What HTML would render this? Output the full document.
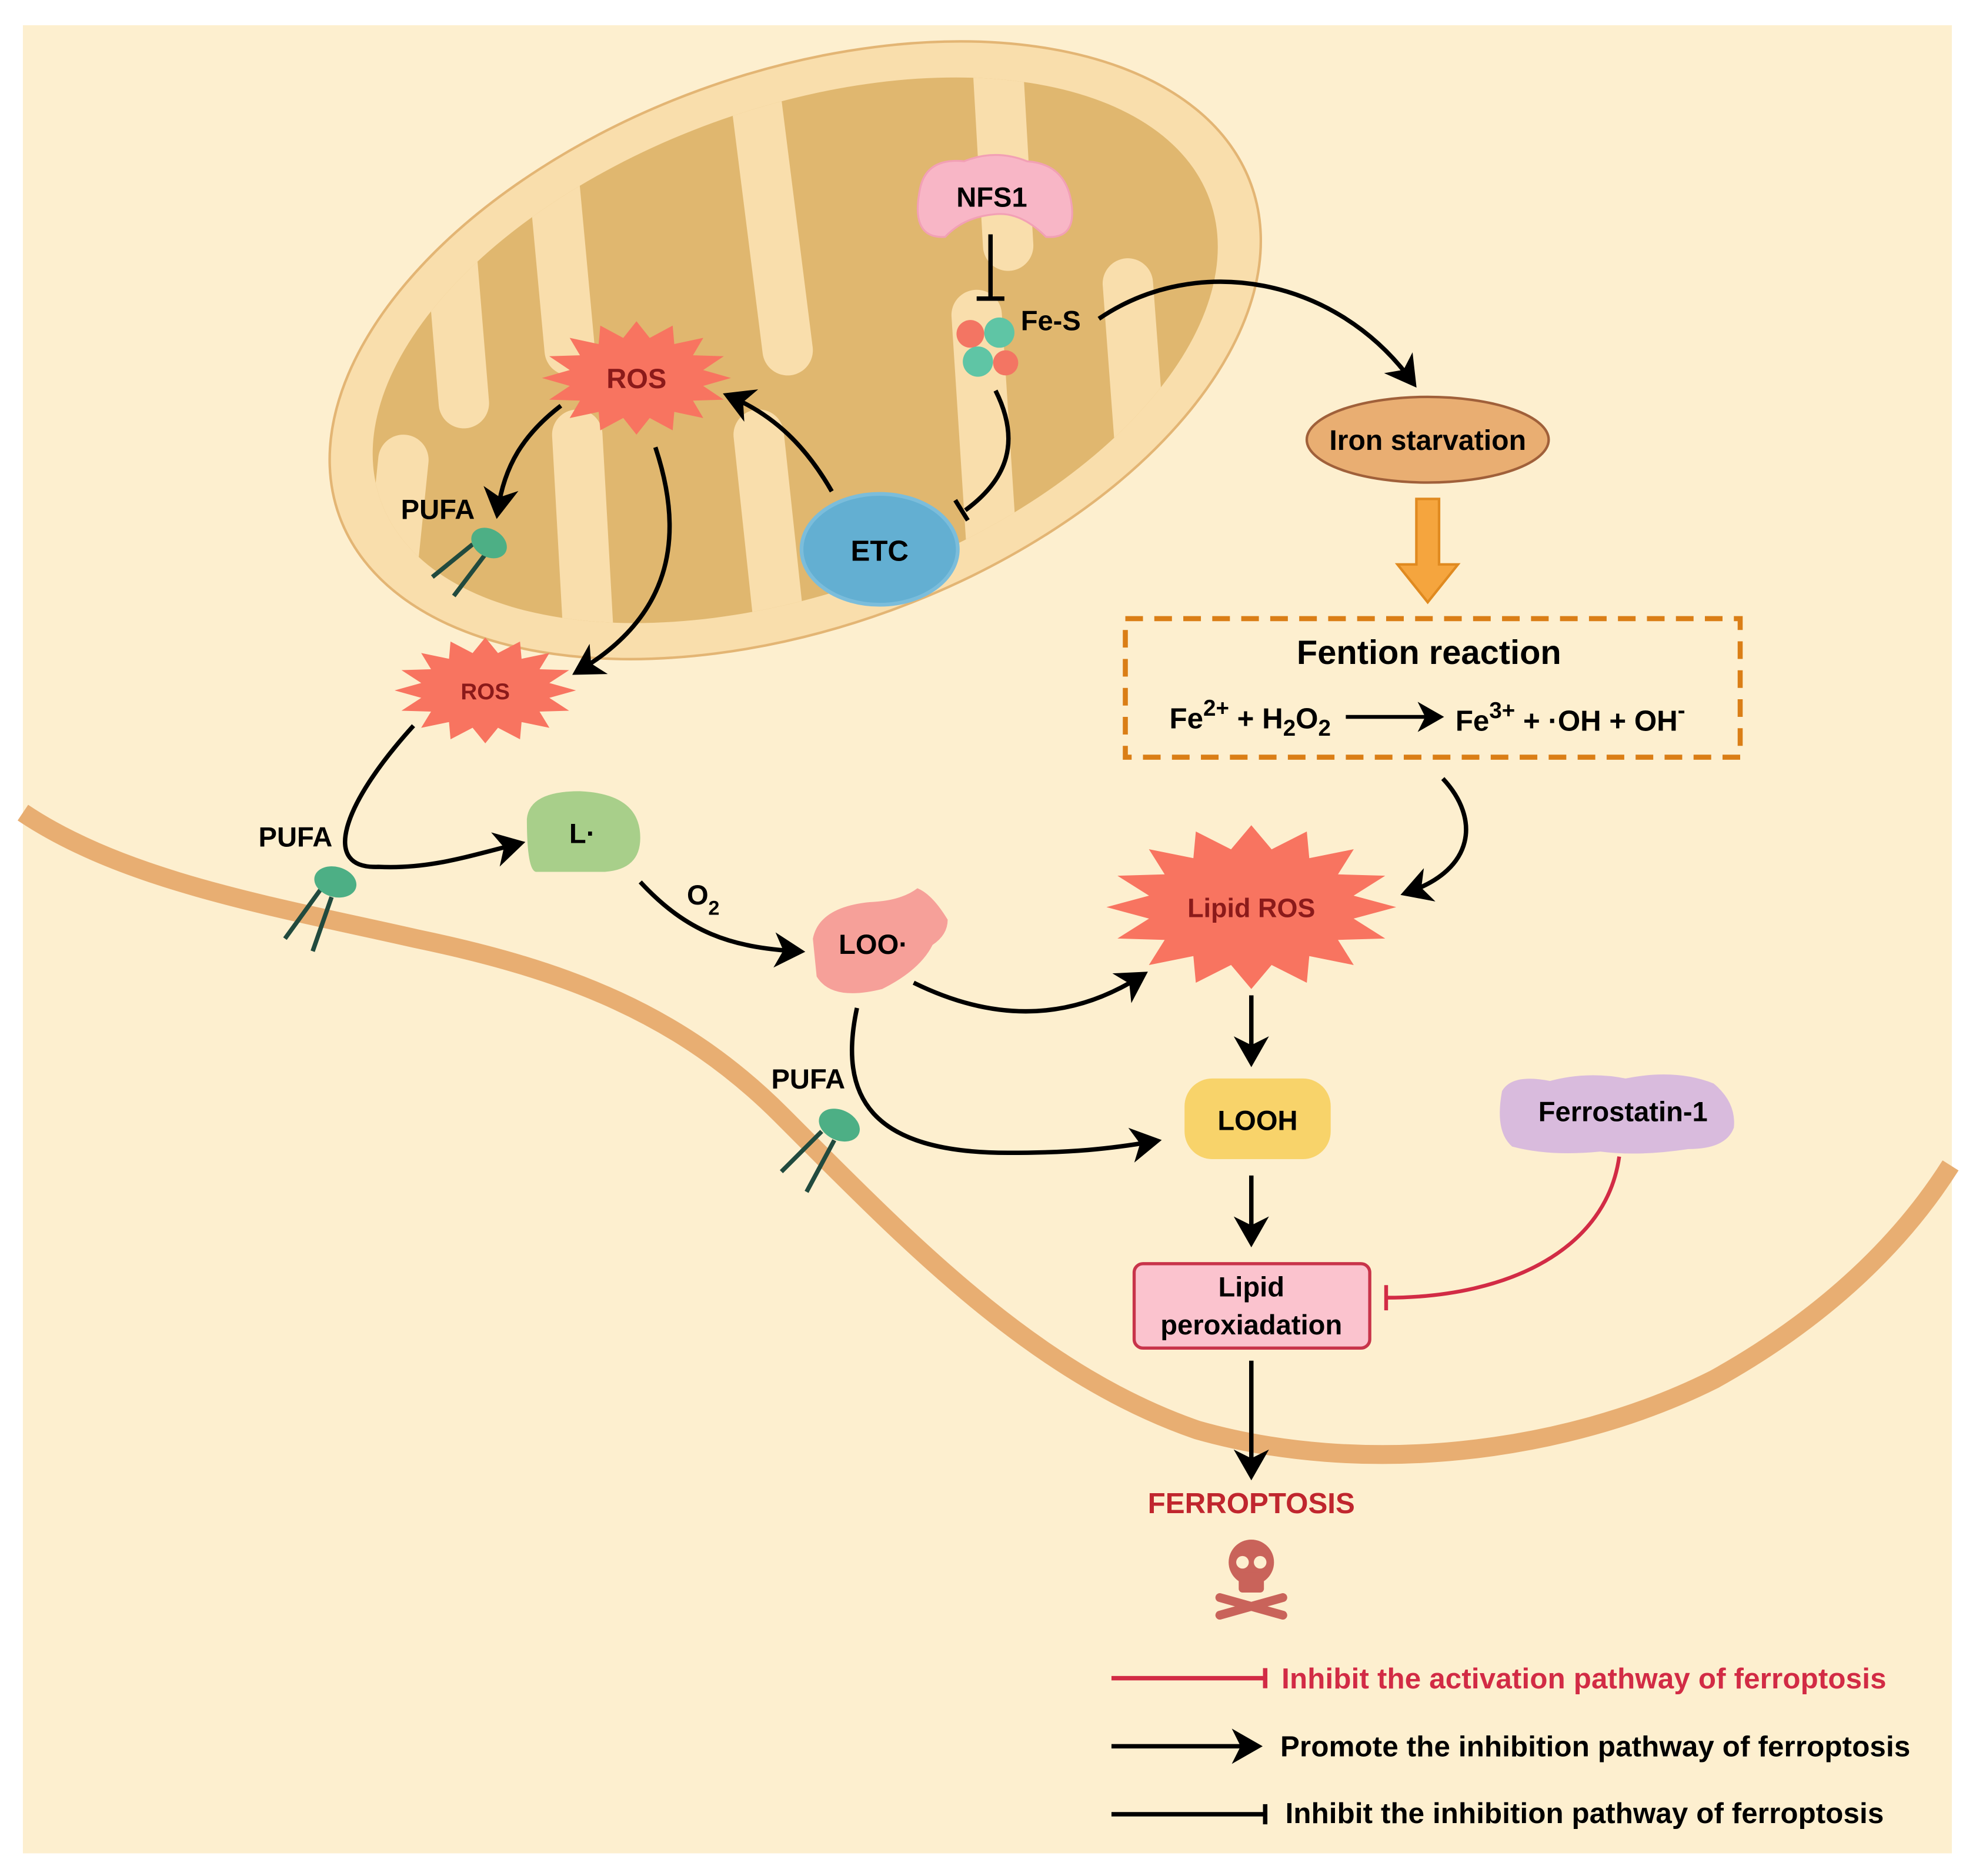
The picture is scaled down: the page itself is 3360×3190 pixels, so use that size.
<!DOCTYPE html>
<html><head><meta charset="utf-8"><style>
html,body{margin:0;padding:0;background:#fff}
svg{display:block}
text{font-family:"Liberation Sans",sans-serif;font-weight:bold}
</style></head><body>
<svg width="3360" height="3190" viewBox="0 0 1568 1489" xmlns="http://www.w3.org/2000/svg">
<defs>
<polygon id="star" points="1,0 .706,.14 .924,.383 .598,.4 .707,.707 .4,.598 .383,.924 .14,.706 0,1 -.14,.706 -.383,.924 -.4,.598 -.707,.707 -.598,.4 -.924,.383 -.706,.14 -1,0 -.706,-.14 -.924,-.383 -.598,-.4 -.707,-.707 -.4,-.598 -.383,-.924 -.14,-.706 0,-1 .14,-.706 .383,-.924 .4,-.598 .707,-.707 .598,-.4 .924,-.383 .706,-.14"/>
<marker id="ah" markerWidth="8" markerHeight="8" refX="5" refY="4" orient="auto" markerUnits="strokeWidth"><path d="M0,0 L7,4 L0,8 L2,4 Z" fill="#000"/></marker>
<clipPath id="inner"><ellipse cx="0" cy="0" rx="350" ry="192"/></clipPath>
</defs>
<rect x="0" y="0" width="1568" height="1489" fill="#fff"/>
<rect x="18" y="20" width="1531" height="1451" fill="#FDEFCF"/>
<path d="M18,645 C100,700 220,720 330,745 C450,770 540,805 620,885 C720,985 820,1090 950,1135 C1080,1172 1240,1155 1360,1095 C1450,1045 1510,985 1548,925" fill="none" stroke="#E8AE72" stroke-width="15"/>
<g transform="translate(631,278) rotate(-20)">
<ellipse cx="0" cy="0" rx="385" ry="220" fill="#F9DEAC" stroke="#E3B574" stroke-width="2"/>
<ellipse cx="0" cy="0" rx="350" ry="192" fill="#E0B76F"/>
</g>
<g transform="translate(631,278) rotate(-20)" clip-path="url(#inner)"><g transform="rotate(20) translate(-631,-278)" stroke="#F9DEAC" stroke-width="40" stroke-linecap="round" fill="none">
<path d="M345,40 L368,320"/><path d="M430,40 L452,278"/><path d="M595,40 L625,278"/><path d="M790,20 L800,195"/>
<path d="M470,560 L458,345"/><path d="M625,560 L602,345"/><path d="M795,560 L775,250"/><path d="M920,560 L895,225"/>
<path d="M300,560 L320,365"/>
</g></g>
<path d="M730,150 Q735,125 765,128 Q790,118 815,128 Q845,130 850,160 Q855,190 830,188 Q810,168 790,170 Q765,172 750,188 Q722,190 730,150Z" fill="#F8B6C6" stroke="#F2A0B5" stroke-width="1.5"/>
<text x="787" y="164" font-size="22" text-anchor="middle">NFS1</text>
<path d="M786,186 L786,236" stroke="#000" stroke-width="3.5"/><path d="M775,237 L797,237" stroke="#000" stroke-width="3.5"/>
<circle cx="770" cy="265" r="11" fill="#F37563"/><circle cx="793" cy="264" r="12" fill="#5FC5A5"/>
<circle cx="776" cy="287" r="12" fill="#5FC5A5"/><circle cx="798" cy="288" r="10" fill="#F37563"/>
<text x="810" y="262" font-size="22">Fe-S</text>
<path d="M872,253 C950,200 1060,220 1120,302" fill="none" stroke="#000" stroke-width="3.5" marker-end="url(#ah)"/>
<path d="M790,310 C810,350 800,380 766,405" fill="none" stroke="#000" stroke-width="3.5"/><path d="M758,397 L768,413" stroke="#000" stroke-width="3.5"/>
<ellipse cx="698" cy="436" rx="62" ry="44" fill="#63AFD2" stroke="#7BBDDB" stroke-width="3"/>
<text x="698" y="445" font-size="23" text-anchor="middle">ETC</text>
<path d="M660,390 C640,355 615,330 580,315" fill="none" stroke="#000" stroke-width="3.5" marker-end="url(#ah)"/>
<use href="#star" transform="translate(505,300) scale(75,45)" fill="#F87460"/>
<text x="505" y="308" font-size="22" text-anchor="middle" fill="#8B1A1A">ROS</text>
<path d="M445,322 C415,345 400,370 395,405" fill="none" stroke="#000" stroke-width="3.5" marker-end="url(#ah)"/>
<path d="M520,355 C545,430 530,490 460,532" fill="none" stroke="#000" stroke-width="3.5" marker-end="url(#ah)"/>
<text x="318" y="412" font-size="22">PUFA</text>
<path d="M375,432 L343,458 M385,440 L360,473" stroke="#214A3E" stroke-width="3.5"/>
<ellipse cx="388" cy="431" rx="15" ry="11" transform="rotate(30 388 431)" fill="#4DAF85"/>
<use href="#star" transform="translate(385,548) scale(72,42)" fill="#F87460"/>
<text x="385" y="555" font-size="18" text-anchor="middle" fill="#8B1A1A">ROS</text>
<path d="M328,576 C270,640 255,690 300,688 C340,690 370,680 410,670" fill="none" stroke="#000" stroke-width="3.5" marker-end="url(#ah)"/>
<text x="205" y="672" font-size="22">PUFA</text>
<path d="M255,705 L226,745 M263,712 L248,755" stroke="#214A3E" stroke-width="3.5"/>
<ellipse cx="266" cy="700" rx="17" ry="12" transform="rotate(15 266 700)" fill="#4DAF85"/>
<path d="M418,650 Q420,628 460,628 Q508,630 508,665 Q508,690 480,692 L425,692 Q418,690 418,650Z" fill="#A8CF8A"/>
<text x="462" y="669" font-size="22" text-anchor="middle">L·</text>
<path d="M508,700 C545,740 580,752 632,755" fill="none" stroke="#000" stroke-width="3.5" marker-end="url(#ah)"/>
<text x="545" y="718" font-size="22">O</text><text x="562" y="726" font-size="16">2</text>
<path d="M645,745 Q650,720 690,716 Q715,715 728,705 Q740,710 752,730 Q752,742 740,750 Q730,770 700,785 Q660,795 648,775 Z" fill="#F6A099"/>
<text x="693" y="757" font-size="22" text-anchor="middle">LOO·</text>
<path d="M725,780 C790,812 850,810 905,775" fill="none" stroke="#000" stroke-width="3.5" marker-end="url(#ah)"/>
<path d="M680,800 C665,870 690,915 800,915 C850,915 880,912 915,906" fill="none" stroke="#000" stroke-width="3.5" marker-end="url(#ah)"/>
<text x="612" y="864" font-size="22">PUFA</text>
<path d="M652,898 L620,930 M662,905 L640,946" stroke="#214A3E" stroke-width="3.5"/>
<ellipse cx="666" cy="893" rx="17" ry="12" transform="rotate(25 666 893)" fill="#4DAF85"/>
<ellipse cx="1133" cy="349" rx="96" ry="34" fill="#E9AE72" stroke="#A0603A" stroke-width="2"/>
<text x="1133" y="357" font-size="22.5" text-anchor="middle">Iron starvation</text>
<path d="M1124,396 L1142,396 L1142,448 L1157,448 L1133,478 L1109,448 L1124,448 Z" fill="#F5A53E" stroke="#E08A20" stroke-width="2"/>
<rect x="893" y="491" width="488" height="110" fill="none" stroke="#DA7E16" stroke-width="4" stroke-dasharray="14,9"/>
<text x="1134" y="527" font-size="27" text-anchor="middle">Fention reaction</text>
<text x="928" y="578" font-size="23">Fe<tspan font-size="18" dy="-10">2+</tspan><tspan dy="10"> + H</tspan><tspan font-size="18" dy="6">2</tspan><tspan dy="-6">O</tspan><tspan font-size="18" dy="6">2</tspan></text>
<path d="M1068,569 L1140,569" stroke="#000" stroke-width="3" marker-end="url(#ah)"/>
<text x="1155" y="580" font-size="23">Fe<tspan font-size="18" dy="-10">3+</tspan><tspan dy="10"> + ·OH + OH</tspan><tspan font-size="18" dy="-10">-</tspan></text>
<path d="M1145,618 C1175,650 1170,690 1118,708" fill="none" stroke="#000" stroke-width="3.5" marker-end="url(#ah)"/>
<use href="#star" transform="translate(993,720) scale(115,65)" fill="#F87460"/>
<text x="993" y="728" font-size="21" text-anchor="middle" fill="#8B1A1A">Lipid ROS</text>
<path d="M993,790 L993,840" stroke="#000" stroke-width="3.5" marker-end="url(#ah)"/>
<rect x="940" y="856" width="116" height="64" rx="22" fill="#F8D36A"/>
<text x="998" y="897" font-size="22" text-anchor="middle">LOOH</text>
<path d="M993,933 L993,983" stroke="#000" stroke-width="3.5" marker-end="url(#ah)"/>
<rect x="900" y="1003" width="187" height="67" rx="7" fill="#FBC3CE" stroke="#C8344A" stroke-width="2.5"/>
<text x="993" y="1029" font-size="22" text-anchor="middle">Lipid</text>
<text x="993" y="1059" font-size="22" text-anchor="middle">peroxiadation</text>
<path d="M1192,866 Q1200,852 1230,858 Q1260,850 1290,856 Q1330,848 1360,860 Q1378,875 1376,895 Q1370,912 1340,912 Q1300,918 1270,914 Q1230,918 1200,910 Q1186,898 1192,866Z" fill="#D9BBDD"/>
<text x="1288" y="890" font-size="22" text-anchor="middle">Ferrostatin-1</text>
<path d="M1285,918 C1275,990 1200,1030 1100,1030" fill="none" stroke="#D22B45" stroke-width="3"/>
<path d="M1100,1020 L1100,1040" stroke="#D22B45" stroke-width="3"/>
<path d="M993,1080 L993,1168" stroke="#000" stroke-width="3.5" marker-end="url(#ah)"/>
<text x="993" y="1201" font-size="23" text-anchor="middle" fill="#C0262E">FERROPTOSIS</text>
<g fill="#C9635A">
<path d="M968,1268 L1018,1282 M1018,1268 L968,1282" stroke="#C9635A" stroke-width="7" stroke-linecap="round"/>
<circle cx="993" cy="1240" r="18"/><rect x="983" y="1248" width="20" height="16" rx="3"/>
<circle cx="986" cy="1240" r="5" fill="#FDEFCF"/><circle cx="1000" cy="1240" r="5" fill="#FDEFCF"/>
</g>
<path d="M882,1332 L1004,1332" stroke="#D22B45" stroke-width="3.5"/><path d="M1004,1324 L1004,1340" stroke="#D22B45" stroke-width="3.5"/>
<text x="1017" y="1340" font-size="23" fill="#D22B45" textLength="480">Inhibit the activation pathway of ferroptosis</text>
<path d="M882,1386 L995,1386" stroke="#000" stroke-width="3.5" marker-end="url(#ah)"/>
<text x="1016" y="1394" font-size="23" textLength="500">Promote the inhibition pathway of ferroptosis</text>
<path d="M882,1440 L1004,1440" stroke="#000" stroke-width="3.5"/><path d="M1004,1432 L1004,1448" stroke="#000" stroke-width="3.5"/>
<text x="1020" y="1447" font-size="23" textLength="475">Inhibit the inhibition pathway of ferroptosis</text>
</svg>
</body></html>
